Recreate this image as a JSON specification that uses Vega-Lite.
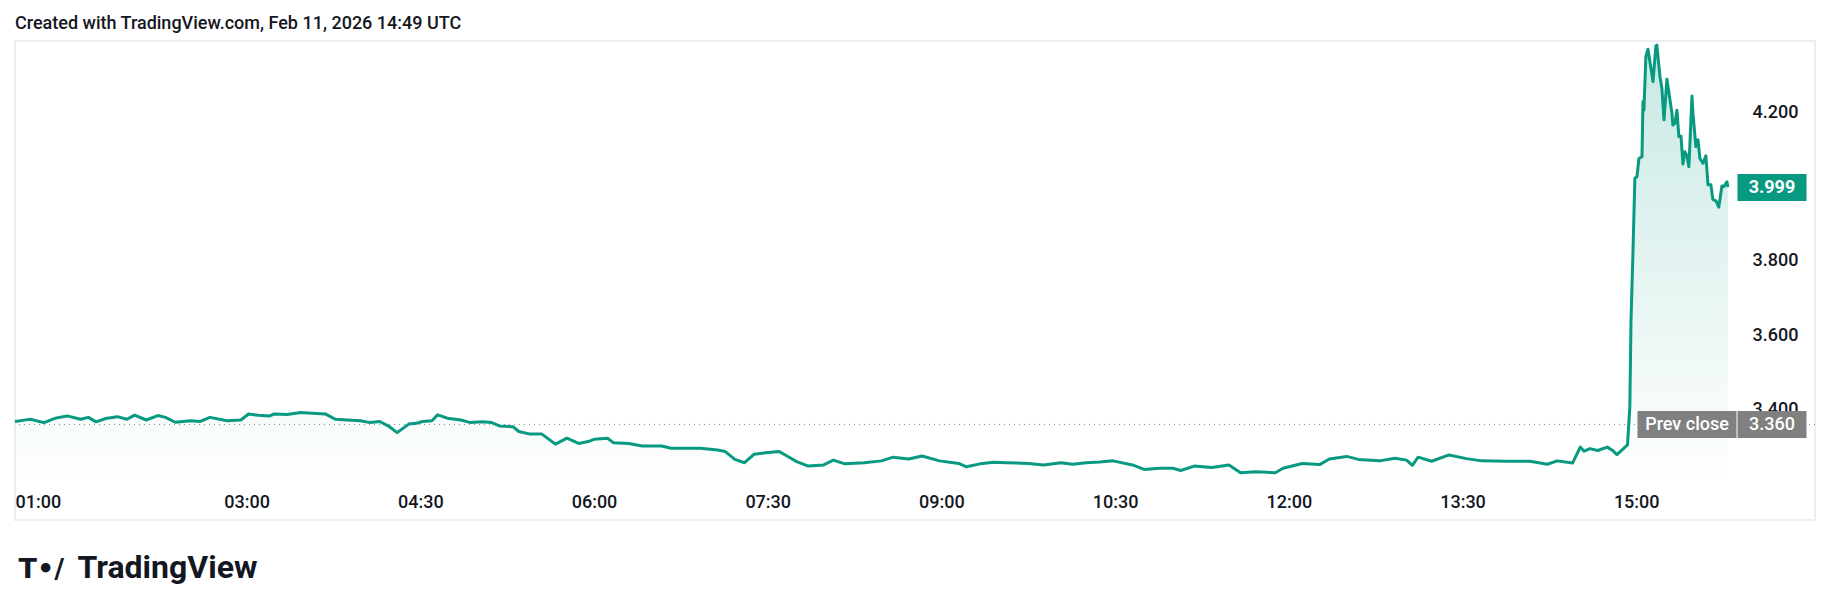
{
  "$schema": "https://vega.github.io/schema/vega-lite/v6.json",
  "width": 1800,
  "height": 479,
  "autosize": {"type": "none"},
  "padding": {"left": 15, "top": 41, "right": 15, "bottom": 91},
  "background": "white",
  "config": {"view": {"stroke": "#eceef2", "strokeWidth": 2}, "font": "Roboto"},
  "title": {
    "text": "Created with TradingView.com, Feb 11, 2026 14:49 UTC",
    "anchor": "start", "frame": "group", "orient": "top", "offset": -5.5,
    "baseline": "alphabetic", "font": "Roboto", "fontSize": 18, "fontWeight": 500, "color": "#131722"
  },
  "data": {"values": [
    {"t": "2026-02-11T01:00:00Z", "p": 3.368},
    {"t": "2026-02-11T01:04:00Z", "p": 3.371},
    {"t": "2026-02-11T01:08:00Z", "p": 3.374},
    {"t": "2026-02-11T01:15:00Z", "p": 3.365},
    {"t": "2026-02-11T01:21:00Z", "p": 3.377},
    {"t": "2026-02-11T01:27:00Z", "p": 3.383},
    {"t": "2026-02-11T01:34:00Z", "p": 3.374},
    {"t": "2026-02-11T01:38:00Z", "p": 3.379},
    {"t": "2026-02-11T01:42:00Z", "p": 3.367},
    {"t": "2026-02-11T01:47:00Z", "p": 3.376},
    {"t": "2026-02-11T01:53:00Z", "p": 3.381},
    {"t": "2026-02-11T01:58:00Z", "p": 3.374},
    {"t": "2026-02-11T02:02:00Z", "p": 3.385},
    {"t": "2026-02-11T02:08:00Z", "p": 3.372},
    {"t": "2026-02-11T02:14:00Z", "p": 3.384},
    {"t": "2026-02-11T02:18:00Z", "p": 3.379},
    {"t": "2026-02-11T02:23:00Z", "p": 3.366},
    {"t": "2026-02-11T02:31:00Z", "p": 3.370},
    {"t": "2026-02-11T02:36:00Z", "p": 3.368},
    {"t": "2026-02-11T02:41:00Z", "p": 3.379},
    {"t": "2026-02-11T02:50:00Z", "p": 3.370},
    {"t": "2026-02-11T02:57:00Z", "p": 3.372},
    {"t": "2026-02-11T03:01:00Z", "p": 3.388},
    {"t": "2026-02-11T03:06:00Z", "p": 3.385},
    {"t": "2026-02-11T03:12:00Z", "p": 3.383},
    {"t": "2026-02-11T03:14:00Z", "p": 3.388},
    {"t": "2026-02-11T03:21:00Z", "p": 3.387},
    {"t": "2026-02-11T03:28:00Z", "p": 3.392},
    {"t": "2026-02-11T03:34:00Z", "p": 3.390},
    {"t": "2026-02-11T03:41:00Z", "p": 3.388},
    {"t": "2026-02-11T03:46:00Z", "p": 3.374},
    {"t": "2026-02-11T03:52:00Z", "p": 3.372},
    {"t": "2026-02-11T03:59:00Z", "p": 3.370},
    {"t": "2026-02-11T04:04:00Z", "p": 3.365},
    {"t": "2026-02-11T04:09:00Z", "p": 3.368},
    {"t": "2026-02-11T04:14:00Z", "p": 3.354},
    {"t": "2026-02-11T04:18:00Z", "p": 3.338},
    {"t": "2026-02-11T04:24:00Z", "p": 3.361},
    {"t": "2026-02-11T04:28:00Z", "p": 3.363},
    {"t": "2026-02-11T04:31:00Z", "p": 3.368},
    {"t": "2026-02-11T04:36:00Z", "p": 3.370},
    {"t": "2026-02-11T04:39:00Z", "p": 3.386},
    {"t": "2026-02-11T04:44:00Z", "p": 3.377},
    {"t": "2026-02-11T04:51:00Z", "p": 3.372},
    {"t": "2026-02-11T04:56:00Z", "p": 3.365},
    {"t": "2026-02-11T05:02:00Z", "p": 3.367},
    {"t": "2026-02-11T05:07:00Z", "p": 3.365},
    {"t": "2026-02-11T05:11:00Z", "p": 3.356},
    {"t": "2026-02-11T05:18:00Z", "p": 3.354},
    {"t": "2026-02-11T05:21:00Z", "p": 3.341},
    {"t": "2026-02-11T05:27:00Z", "p": 3.334},
    {"t": "2026-02-11T05:33:00Z", "p": 3.334},
    {"t": "2026-02-11T05:40:00Z", "p": 3.307},
    {"t": "2026-02-11T05:46:00Z", "p": 3.323},
    {"t": "2026-02-11T05:52:00Z", "p": 3.309},
    {"t": "2026-02-11T05:57:00Z", "p": 3.314},
    {"t": "2026-02-11T06:00:00Z", "p": 3.320},
    {"t": "2026-02-11T06:07:00Z", "p": 3.323},
    {"t": "2026-02-11T06:10:00Z", "p": 3.311},
    {"t": "2026-02-11T06:18:00Z", "p": 3.309},
    {"t": "2026-02-11T06:25:00Z", "p": 3.302},
    {"t": "2026-02-11T06:35:00Z", "p": 3.302},
    {"t": "2026-02-11T06:40:00Z", "p": 3.296},
    {"t": "2026-02-11T06:49:00Z", "p": 3.296},
    {"t": "2026-02-11T06:55:00Z", "p": 3.296},
    {"t": "2026-02-11T07:04:00Z", "p": 3.291},
    {"t": "2026-02-11T07:08:00Z", "p": 3.287},
    {"t": "2026-02-11T07:13:00Z", "p": 3.266},
    {"t": "2026-02-11T07:18:00Z", "p": 3.257},
    {"t": "2026-02-11T07:23:00Z", "p": 3.280},
    {"t": "2026-02-11T07:29:00Z", "p": 3.284},
    {"t": "2026-02-11T07:36:00Z", "p": 3.287},
    {"t": "2026-02-11T07:40:00Z", "p": 3.275},
    {"t": "2026-02-11T07:45:00Z", "p": 3.260},
    {"t": "2026-02-11T07:51:00Z", "p": 3.248},
    {"t": "2026-02-11T07:59:00Z", "p": 3.251},
    {"t": "2026-02-11T08:04:00Z", "p": 3.264},
    {"t": "2026-02-11T08:10:00Z", "p": 3.254},
    {"t": "2026-02-11T08:20:00Z", "p": 3.257},
    {"t": "2026-02-11T08:29:00Z", "p": 3.262},
    {"t": "2026-02-11T08:35:00Z", "p": 3.272},
    {"t": "2026-02-11T08:43:00Z", "p": 3.267},
    {"t": "2026-02-11T08:50:00Z", "p": 3.275},
    {"t": "2026-02-11T08:59:00Z", "p": 3.262},
    {"t": "2026-02-11T09:09:00Z", "p": 3.255},
    {"t": "2026-02-11T09:13:00Z", "p": 3.246},
    {"t": "2026-02-11T09:20:00Z", "p": 3.254},
    {"t": "2026-02-11T09:27:00Z", "p": 3.258},
    {"t": "2026-02-11T09:34:00Z", "p": 3.257},
    {"t": "2026-02-11T09:45:00Z", "p": 3.255},
    {"t": "2026-02-11T09:53:00Z", "p": 3.251},
    {"t": "2026-02-11T10:02:00Z", "p": 3.257},
    {"t": "2026-02-11T10:08:00Z", "p": 3.253},
    {"t": "2026-02-11T10:15:00Z", "p": 3.257},
    {"t": "2026-02-11T10:22:00Z", "p": 3.259},
    {"t": "2026-02-11T10:29:00Z", "p": 3.262},
    {"t": "2026-02-11T10:39:00Z", "p": 3.251},
    {"t": "2026-02-11T10:45:00Z", "p": 3.239},
    {"t": "2026-02-11T10:53:00Z", "p": 3.242},
    {"t": "2026-02-11T11:00:00Z", "p": 3.242},
    {"t": "2026-02-11T11:04:00Z", "p": 3.236},
    {"t": "2026-02-11T11:11:00Z", "p": 3.248},
    {"t": "2026-02-11T11:20:00Z", "p": 3.244},
    {"t": "2026-02-11T11:29:00Z", "p": 3.251},
    {"t": "2026-02-11T11:35:00Z", "p": 3.230},
    {"t": "2026-02-11T11:43:00Z", "p": 3.233},
    {"t": "2026-02-11T11:53:00Z", "p": 3.230},
    {"t": "2026-02-11T11:57:00Z", "p": 3.242},
    {"t": "2026-02-11T12:07:00Z", "p": 3.255},
    {"t": "2026-02-11T12:16:00Z", "p": 3.252},
    {"t": "2026-02-11T12:21:00Z", "p": 3.267},
    {"t": "2026-02-11T12:30:00Z", "p": 3.274},
    {"t": "2026-02-11T12:36:00Z", "p": 3.266},
    {"t": "2026-02-11T12:47:00Z", "p": 3.262},
    {"t": "2026-02-11T12:55:00Z", "p": 3.269},
    {"t": "2026-02-11T13:01:00Z", "p": 3.264},
    {"t": "2026-02-11T13:04:00Z", "p": 3.250},
    {"t": "2026-02-11T13:07:00Z", "p": 3.272},
    {"t": "2026-02-11T13:14:00Z", "p": 3.261},
    {"t": "2026-02-11T13:23:00Z", "p": 3.278},
    {"t": "2026-02-11T13:32:00Z", "p": 3.268},
    {"t": "2026-02-11T13:40:00Z", "p": 3.262},
    {"t": "2026-02-11T13:53:00Z", "p": 3.261},
    {"t": "2026-02-11T14:05:00Z", "p": 3.261},
    {"t": "2026-02-11T14:14:00Z", "p": 3.253},
    {"t": "2026-02-11T14:19:00Z", "p": 3.262},
    {"t": "2026-02-11T14:27:00Z", "p": 3.256},
    {"t": "2026-02-11T14:31:00Z", "p": 3.299},
    {"t": "2026-02-11T14:33:00Z", "p": 3.288},
    {"t": "2026-02-11T14:36:00Z", "p": 3.295},
    {"t": "2026-02-11T14:40:00Z", "p": 3.290},
    {"t": "2026-02-11T14:45:00Z", "p": 3.299},
    {"t": "2026-02-11T14:48:00Z", "p": 3.289},
    {"t": "2026-02-11T14:50:00Z", "p": 3.279},
    {"t": "2026-02-11T14:55:30Z", "p": 3.305},
    {"t": "2026-02-11T14:56:42Z", "p": 3.408},
    {"t": "2026-02-11T14:57:18Z", "p": 3.641},
    {"t": "2026-02-11T14:58:18Z", "p": 3.821},
    {"t": "2026-02-11T14:59:18Z", "p": 4.023},
    {"t": "2026-02-11T15:00:24Z", "p": 4.027},
    {"t": "2026-02-11T15:01:24Z", "p": 4.076},
    {"t": "2026-02-11T15:03:00Z", "p": 4.081},
    {"t": "2026-02-11T15:03:30Z", "p": 4.229},
    {"t": "2026-02-11T15:04:00Z", "p": 4.206},
    {"t": "2026-02-11T15:05:00Z", "p": 4.350},
    {"t": "2026-02-11T15:06:06Z", "p": 4.370},
    {"t": "2026-02-11T15:08:42Z", "p": 4.283},
    {"t": "2026-02-11T15:10:12Z", "p": 4.379},
    {"t": "2026-02-11T15:10:42Z", "p": 4.381},
    {"t": "2026-02-11T15:12:18Z", "p": 4.296},
    {"t": "2026-02-11T15:13:18Z", "p": 4.265},
    {"t": "2026-02-11T15:14:24Z", "p": 4.180},
    {"t": "2026-02-11T15:15:54Z", "p": 4.289},
    {"t": "2026-02-11T15:18:30Z", "p": 4.198},
    {"t": "2026-02-11T15:19:00Z", "p": 4.166},
    {"t": "2026-02-11T15:20:06Z", "p": 4.171},
    {"t": "2026-02-11T15:21:06Z", "p": 4.206},
    {"t": "2026-02-11T15:22:06Z", "p": 4.135},
    {"t": "2026-02-11T15:23:12Z", "p": 4.136},
    {"t": "2026-02-11T15:24:12Z", "p": 4.061},
    {"t": "2026-02-11T15:25:12Z", "p": 4.094},
    {"t": "2026-02-11T15:26:18Z", "p": 4.083},
    {"t": "2026-02-11T15:27:18Z", "p": 4.054},
    {"t": "2026-02-11T15:28:54Z", "p": 4.244},
    {"t": "2026-02-11T15:29:24Z", "p": 4.198},
    {"t": "2026-02-11T15:30:54Z", "p": 4.108},
    {"t": "2026-02-11T15:32:00Z", "p": 4.126},
    {"t": "2026-02-11T15:33:00Z", "p": 4.076},
    {"t": "2026-02-11T15:34:36Z", "p": 4.063},
    {"t": "2026-02-11T15:36:06Z", "p": 4.083},
    {"t": "2026-02-11T15:37:12Z", "p": 4.005},
    {"t": "2026-02-11T15:38:42Z", "p": 4.005},
    {"t": "2026-02-11T15:39:42Z", "p": 3.966},
    {"t": "2026-02-11T15:41:18Z", "p": 3.962},
    {"t": "2026-02-11T15:42:48Z", "p": 3.945},
    {"t": "2026-02-11T15:44:24Z", "p": 4.002},
    {"t": "2026-02-11T15:45:24Z", "p": 4.000},
    {"t": "2026-02-11T15:47:00Z", "p": 4.013},
    {"t": "2026-02-11T15:47:30Z", "p": 3.999}
  ]},
  "layer": [
    {
      "mark": {
        "type": "area",
        "color": {
          "gradient": "linear", "x1": 0, "y1": 0, "x2": 0, "y2": 1,
          "stops": [
            {"offset": 0, "color": "rgba(8,153,129,0.22)"},
            {"offset": 1, "color": "rgba(8,153,129,0)"}
          ]
        }
      },
      "encoding": {
        "x": {
          "field": "t", "type": "temporal",
          "scale": {"type": "utc", "nice": false, "domain": [
            {"year": 2026, "month": 2, "date": 11, "hours": 1, "minutes": 0, "utc": true},
            {"year": 2026, "month": 2, "date": 11, "hours": 16, "minutes": 32, "seconds": 38, "utc": true}
          ]},
          "axis": {
            "orient": "bottom",
            "values": [
              {"year": 2026, "month": 2, "date": 11, "hours": 1, "minutes": 0, "utc": true},
              {"year": 2026, "month": 2, "date": 11, "hours": 3, "minutes": 0, "utc": true},
              {"year": 2026, "month": 2, "date": 11, "hours": 4, "minutes": 30, "utc": true},
              {"year": 2026, "month": 2, "date": 11, "hours": 6, "minutes": 0, "utc": true},
              {"year": 2026, "month": 2, "date": 11, "hours": 7, "minutes": 30, "utc": true},
              {"year": 2026, "month": 2, "date": 11, "hours": 9, "minutes": 0, "utc": true},
              {"year": 2026, "month": 2, "date": 11, "hours": 10, "minutes": 30, "utc": true},
              {"year": 2026, "month": 2, "date": 11, "hours": 12, "minutes": 0, "utc": true},
              {"year": 2026, "month": 2, "date": 11, "hours": 13, "minutes": 30, "utc": true},
              {"year": 2026, "month": 2, "date": 11, "hours": 15, "minutes": 0, "utc": true}
            ],
            "format": "%H:%M",
            "ticks": false, "tickSize": 0, "domain": false, "grid": false,
            "labelFlush": false, "labelOverlap": false, "labelBound": false,
            "labelPadding": -13, "labelBaseline": "alphabetic",
            "labelAlign": {"condition": {"test": "datum.label == '01:00'", "value": "left"}, "value": "center"},
            "labelFont": "Roboto", "labelFontSize": 18, "labelFontWeight": 500, "labelColor": "#131722",
            "title": "TradingView", "titleX": 62, "titleY": 57, "titleAlign": "left", "titleAngle": 0,
            "titleBaseline": "alphabetic", "titleFont": "Roboto", "titleFontSize": 32,
            "titleFontWeight": "bold", "titleColor": "#131722", "zindex": 0
          }
        },
        "y": {
          "field": "p", "type": "quantitative",
          "scale": {"domain": [3.10283, 4.39219], "nice": false, "zero": false},
          "axis": {
            "orient": "right", "offset": -78, "values": [3.4, 3.6, 3.8, 4.2], "format": ".3f",
            "ticks": false, "tickSize": 0, "domain": false, "grid": false, "labelOverlap": false,
            "labelPadding": 38, "labelAlign": "center", "labelBaseline": "middle",
            "labelFont": "Roboto", "labelFontSize": 18, "labelFontWeight": 500, "labelColor": "#131722",
            "title": "T•/", "titleX": -1719, "titleY": 536, "titleAngle": 0, "titleAlign": "left",
            "titleBaseline": "alphabetic", "titleFont": "DejaVu Sans", "titleFontSize": 27,
            "titleFontWeight": "bold", "titleColor": "#131722", "zindex": 0
          }
        },
        "y2": {"datum": 3.2024}
      }
    },
    {
      "data": {"values": [{"label": "Prev close", "close": 3.36}]},
      "mark": {"type": "rule", "stroke": "#8a8d96", "strokeWidth": 1, "strokeDash": [1, 4]},
      "encoding": {
        "y": {
          "field": "close", "type": "quantitative",
          "scale": {"domain": [3.10283, 4.39219], "nice": false, "zero": false},
          "axis": {
            "orient": "right", "offset": -78, "values": [3.36], "format": ".3f",
            "ticks": true, "tickSize": 69, "tickWidth": 27, "tickColor": "#808080", "tickCap": "butt",
            "domain": false, "grid": false, "labelPadding": -34.5, "labelAlign": "center", "labelBaseline": "middle",
            "labelFont": "Roboto", "labelFontSize": 18, "labelFontWeight": 500, "labelColor": "#ffffff", "title": null, "zindex": 1
          }
        }
      }
    },
    {
      "data": {"values": [{"label": "Prev close", "close": 3.36}]},
      "mark": {"type": "rule", "strokeOpacity": 0},
      "encoding": {
        "y": {
          "field": "close", "type": "quantitative",
          "scale": {"domain": [3.10283, 4.39219], "nice": false, "zero": false},
          "axis": {
            "orient": "right", "offset": -178, "values": [3.36], "labelExpr": "'Prev close'",
            "ticks": true, "tickSize": 99, "tickWidth": 27, "tickColor": "#808080", "tickCap": "butt",
            "domain": false, "grid": false, "labelPadding": -49.5, "labelAlign": "center", "labelBaseline": "middle",
            "labelFont": "Roboto", "labelFontSize": 18, "labelFontWeight": 500, "labelColor": "#ffffff", "title": null, "zindex": 1
          }
        }
      }
    },
    {
      "mark": {"type": "line", "stroke": "#089981", "strokeWidth": 3, "strokeJoin": "round"},
      "encoding": {
        "x": {
          "field": "t", "type": "temporal",
          "scale": {"type": "utc", "nice": false, "domain": [
            {"year": 2026, "month": 2, "date": 11, "hours": 1, "minutes": 0, "utc": true},
            {"year": 2026, "month": 2, "date": 11, "hours": 16, "minutes": 32, "seconds": 38, "utc": true}
          ]},
          "axis": null
        },
        "y": {
          "field": "p", "type": "quantitative",
          "scale": {"domain": [3.10283, 4.39219], "nice": false, "zero": false},
          "axis": {
            "orient": "right", "offset": -78, "values": [3.999], "format": ".3f",
            "ticks": true, "tickSize": 69, "tickWidth": 27, "tickColor": "#089981", "tickCap": "butt",
            "domain": false, "grid": false, "labelPadding": -34.5, "labelAlign": "center", "labelBaseline": "middle",
            "labelFont": "Roboto", "labelFontSize": 18, "labelFontWeight": "bold", "labelColor": "#ffffff",
            "title": null, "zindex": 1
          }
        }
      }
    }
  ],
  "resolve": {"scale": {"x": "shared", "y": "shared"}, "axis": {"x": "independent", "y": "independent"}}
}
